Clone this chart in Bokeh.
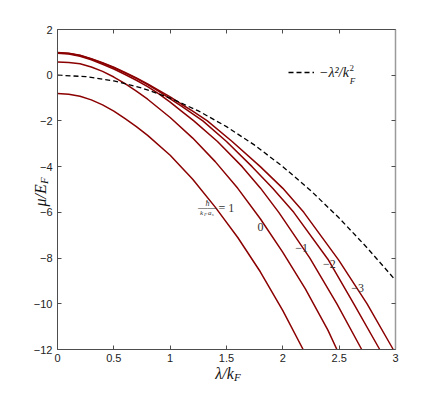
import math
from bokeh.plotting import figure
from bokeh.models import Range1d, LinearAxis, FixedTicker, Label, Legend, LegendItem
from bokeh.embed import file_html
from bokeh.resources import INLINE

# ---------------- data ----------------
x_ticks = [0, 0.5, 1, 1.5, 2, 2.5, 3]
x_tick_labels = ["0", "0.5", "1", "1.5", "2", "2.5", "3"]
y_ticks = [-12, -10, -8, -6, -4, -2, 0, 2]
y_tick_labels = ["\u221212", "\u221210", "\u22128", "\u22126", "\u22124", "\u22122", "0", "2"]

# dashed reference curve  -lambda^2/k_F^2
lam_free = [0, 0.25, 0.5, 0.75, 1.0, 1.25, 1.5, 1.75, 2.0, 2.25, 2.5, 2.75, 3.0]
mu_free = [0, -0.06, -0.25, -0.56, -1.0, -1.56, -2.25, -3.06, -4.0, -5.06, -6.25, -7.56, -8.97]

# 1/(k_F a_s) = 1
lam_p1 = [0, 0.1, 0.2, 0.3, 0.4, 0.5, 0.6, 0.7, 0.8, 1.0, 1.2, 1.4, 1.6, 1.8, 2.0, 2.18]
mu_p1 = [-0.80, -0.83, -0.92, -1.08, -1.30, -1.57, -1.90, -2.25, -2.63, -3.50, -4.55, -5.77,
         -7.10, -8.60, -10.30, -12.0]
# 1/(k_F a_s) = 0
lam_0 = [0, 0.1, 0.2, 0.3, 0.4, 0.5, 0.6, 0.7, 0.8, 1.0, 1.2, 1.4, 1.6, 1.8, 2.0, 2.2, 2.4, 2.48]
mu_0 = [0.58, 0.56, 0.50, 0.36, 0.17, -0.08, -0.37, -0.70, -1.05, -1.85, -2.75, -3.78,
        -4.95, -6.28, -7.75, -9.35, -11.15, -12.0]
# 1/(k_F a_s) = -1
lam_m1 = [0, 0.1, 0.2, 0.3, 0.4, 0.5, 0.6, 0.7, 0.8, 0.9, 1.0, 1.1, 1.21, 1.42, 1.639, 1.8,
          1.964, 2.24, 2.48, 2.70]
mu_m1 = [0.96, 0.93, 0.83, 0.67, 0.48, 0.27, 0.03, -0.22, -0.50, -0.82, -1.18, -1.57, -2.0,
         -2.9, -4.0, -4.93, -6.0, -8.0, -10.0, -12.0]
# 1/(k_F a_s) = -2
lam_m2 = [0, 0.1, 0.2, 0.3, 0.4, 0.5, 0.6, 0.7, 0.8, 0.9, 0.96, 1.1, 1.29, 1.50, 1.727, 1.91,
          2.097, 2.40, 2.63, 2.86]
mu_m2 = [0.98, 0.95, 0.86, 0.71, 0.53, 0.33, 0.10, -0.14, -0.41, -0.71, -0.90, -1.35, -2.0,
         -2.9, -4.0, -4.95, -6.0, -8.05, -10.0, -12.0]
# 1/(k_F a_s) = -3
lam_m3 = [0, 0.1, 0.2, 0.3, 0.4, 0.5, 0.6, 0.7, 0.8, 0.9, 1.0, 1.1, 1.2, 1.33, 1.55, 1.80,
          2.0, 2.186, 2.496, 2.748, 2.98]
mu_m3 = [0.99, 0.96, 0.87, 0.72, 0.55, 0.35, 0.12, -0.12, -0.38, -0.66, -0.95, -1.27, -1.57,
         -2.0, -2.9, -4.0, -4.95, -6.0, -8.09, -10.0, -12.0]

curves = [(lam_p1, mu_p1), (lam_0, mu_0), (lam_m1, mu_m1), (lam_m2, mu_m2), (lam_m3, mu_m3)]
curve_labels = ["0", "\u22121", "\u22122", "\u22123"]

# ---------------- figure ----------------
RED = "#8b0000"
AXC = "#4d4d4d"
SERIF = "Liberation Serif"
SANS = "Liberation Sans"

p = figure(frame_width=338, frame_height=320,
           min_border_left=57, min_border_right=33, min_border_top=29, min_border_bottom=36,
           x_range=Range1d(0, 3), y_range=Range1d(-12, 2),
           output_backend="svg", toolbar_location=None)
p.xgrid.visible = False
p.ygrid.visible = False
p.outline_line_color = None
p.background_fill_color = "white"
p.border_fill_color = "white"

p.add_layout(LinearAxis(), "above")
p.add_layout(LinearAxis(), "right")

for ax in p.xaxis:
    ax.ticker = FixedTicker(ticks=x_ticks)
for ax in p.yaxis:
    ax.ticker = FixedTicker(ticks=y_ticks)

for ax in list(p.xaxis) + list(p.yaxis):
    ax.major_tick_in = 4
    ax.major_tick_out = 0
    ax.minor_tick_line_color = None
    ax.axis_line_color = AXC
    ax.major_tick_line_color = AXC
    ax.major_label_text_font = SANS
    ax.major_label_text_font_size = "11px"
    ax.major_label_text_color = "#222222"

p.below[0].major_label_overrides = dict(zip(x_ticks, x_tick_labels))
p.below[0].major_label_standoff = 4
p.left[0].major_label_overrides = dict(zip(y_ticks, y_tick_labels))
p.left[0].major_label_standoff = 5
p.above[0].major_label_overrides = {t: "" for t in x_ticks}
p.right[0].major_label_overrides = {t: "" for t in y_ticks}
p.right[0].axis_line_color = "#9a9a9a"
p.right[0].axis_line_width = 1.5

for lam, mu in curves:
    p.line(lam, mu, line_color=RED, line_width=1.5)

dashed = p.line(lam_free, mu_free, line_color="black", line_width=1.3, line_dash="5 3")

legend = Legend(items=[LegendItem(label=" ", renderers=[dashed])],
                location=(231, 267), padding=0, margin=0, spacing=0,
                border_line_color=None, background_fill_alpha=0,
                glyph_width=26, glyph_height=20, label_height=20, label_standoff=0,
                label_width=0, label_text_font_size="1px")
p.add_layout(legend)


def mk(x, y, text, size, style="normal", align="left", baseline="middle", angle=0.0,
       color="#222222"):
    return Label(x=x, y=y, text=text, text_font=SERIF, text_font_size=size,
                 text_font_style=style, text_align=align, text_baseline=baseline,
                 angle=angle, text_color=color)


def lab(*args, **kw):
    p.add_layout(mk(*args, **kw))


# legend text  -lambda^2/k_F^2
lab(2.586, 0.10, "\u2212\u03bb\u00b2/k", "14px", "italic", align="right", baseline="middle",
    color="#111111")
lab(2.592, 0.30, "2", "9px")
lab(2.594, -0.24, "F", "9px", "italic")

# curve labels
lab(1.802, -6.66, curve_labels[0], "12px", align="center", color="#333333")
lab(2.166, -7.58, curve_labels[1], "12px", align="center", color="#333333")
lab(2.414, -8.28, curve_labels[2], "12px", align="center", color="#333333")
lab(2.663, -9.29, curve_labels[3], "12px", align="center", color="#333333")

# fraction hbar/(k_F a_s) = 1
lab(1.331, -5.60, "\u0127", "8px", "italic", align="center", color="#333333")
lab(1.331, -5.80, "\u2014\u2014", "9.5px", align="center", color="#333333")
lab(1.264, -6.02, "k", "7px", "italic", color="#333333")
lab(1.300, -6.10, "F", "5px", "italic", color="#333333")
lab(1.335, -6.02, "a", "7px", "italic", color="#333333")
lab(1.368, -6.10, "s", "5px", "italic", color="#333333")
lab(1.429, -5.83, "= 1", "12px", color="#333333")

# axis labels (placed in the side panels so they are not clipped by the frame)
p.add_layout(mk(1.565, -13.05, "\u03bb/k", "16px", "italic", align="right",
                baseline="alphabetic", color="#111111"), "below")
p.add_layout(mk(1.567, -13.20, "F", "11px", "italic", baseline="alphabetic",
                color="#111111"), "below")
p.add_layout(mk(-0.151, -5.74, "\u03bc/E", "16px", "italic", align="left",
                baseline="alphabetic", angle=math.pi / 2, color="#111111"), "left")
p.add_layout(mk(-0.120, -4.76, "F", "11px", "italic", align="left", baseline="alphabetic",
                angle=math.pi / 2, color="#111111"), "left")

open("out.html", "w").write(file_html(p, INLINE))
